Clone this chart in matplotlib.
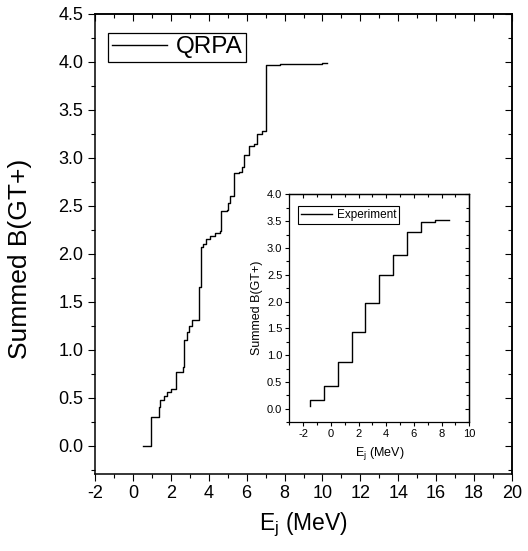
import matplotlib

matplotlib.use("Agg")
import matplotlib.pyplot as plt  # noqa: E402
from matplotlib.ticker import MultipleLocator  # noqa: E402

plt.rcParams["font.family"] = ["Liberation Sans", "DejaVu Sans"]
plt.rcParams["axes.unicode_minus"] = False

# QRPA summed strength: energy where each step starts, level after the step
qrpa_e = [0.55, 0.94, 1.39, 1.45, 1.66, 1.80, 2.01, 2.26, 2.63, 2.71,
          2.84, 2.98, 3.12, 3.47, 3.50, 3.58, 3.72, 3.86, 4.07, 4.33,
          4.60, 4.65, 4.95, 5.03, 5.12, 5.35, 5.61, 5.74, 5.88, 6.14,
          6.41, 6.53, 6.80, 7.01, 7.76, 9.96, 10.23]
qrpa_b = [0.00, 0.30, 0.40, 0.48, 0.52, 0.56, 0.59, 0.77, 0.82, 1.10,
          1.18, 1.25, 1.31, 1.35, 1.65, 2.07, 2.10, 2.15, 2.19, 2.22,
          2.24, 2.45, 2.46, 2.53, 2.60, 2.84, 2.85, 2.91, 3.03, 3.12,
          3.15, 3.25, 3.28, 3.97, 3.98, 3.99, 3.99]

# experiment (inset)
exp_e = [-1.5, -1.5, -0.5, 0.5, 1.5, 2.5, 3.5, 4.5, 5.5, 6.5, 7.5, 8.5]
exp_b = [0.05, 0.17, 0.42, 0.87, 1.44, 1.98, 2.49, 2.87, 3.29, 3.48, 3.53, 3.53]

main_xticks = list(range(-2, 21, 2))
main_yticks = [0.0, 0.5, 1.0, 1.5, 2.0, 2.5, 3.0, 3.5, 4.0, 4.5]
inset_xticks = list(range(-2, 11, 2))
inset_yticks = [0.0, 0.5, 1.0, 1.5, 2.0, 2.5, 3.0, 3.5, 4.0]


def style_axes(ax, size, major, minor, lw):
    # origin style: ticks out on bottom/left, in on top/right
    for s in ax.spines.values():
        s.set_linewidth(lw)
    ax.tick_params(which="both", direction="out", width=0.8, labelsize=size)
    ax.tick_params(which="major", length=major)
    ax.tick_params(which="minor", length=minor)
    top = ax.secondary_xaxis("top")
    right = ax.secondary_yaxis("right")
    for sec, loc in ((top, ax.xaxis), (right, ax.yaxis)):
        sec.set_ticks(loc.get_majorticklocs())
        sec.tick_params(which="both", direction="in", width=0.8)
        sec.tick_params(which="major", length=major)
        sec.tick_params(which="minor", length=minor)
        sec.spines[:].set_linewidth(lw)
    top.set_xticklabels([])
    right.set_yticklabels([])
    top.xaxis.set_minor_locator(ax.xaxis.get_minor_locator())
    right.yaxis.set_minor_locator(ax.yaxis.get_minor_locator())


fig = plt.figure(figsize=(5.28, 5.51), dpi=100)
ax = fig.add_axes([95 / 528, 1 - 473.5 / 551, 417 / 528, 459.5 / 551])
ax.step(qrpa_e, qrpa_b, where="post", color="black", lw=1.0, label="QRPA")
ax.set_xlim(-2, 20)
ax.set_ylim(-0.29, 4.5)
ax.set_xticks(main_xticks)
ax.set_yticks(main_yticks)
ax.set_yticklabels([f"{v:.1f}" for v in main_yticks])
ax.xaxis.set_minor_locator(MultipleLocator(1))
ax.yaxis.set_minor_locator(MultipleLocator(0.25))
style_axes(ax, 13, 5, 3, 1.1)
ax.set_xlabel("E$_\\mathregular{j}$ (MeV)", fontsize=16.5, labelpad=6)
ax.set_ylabel("Summed B(GT+)", fontsize=19)
ax.yaxis.set_label_coords(-0.152, 0.467)
leg = ax.legend(loc="upper left", bbox_to_anchor=(0.031, 0.959), borderaxespad=0,
                fontsize=17.5, fancybox=False, edgecolor="black", framealpha=1,
                handlelength=2.3, handletextpad=0.35, borderpad=0.15)
leg.get_frame().set_linewidth(0.9)

ins = fig.add_axes([289.3 / 528, 1 - 422.3 / 551, 180 / 528, 228 / 551])
ins.step(exp_e, exp_b, where="post", color="black", lw=1.0, label="Experiment")
ins.set_xlim(-3, 10)
ins.set_ylim(-0.25, 4.0)
ins.set_xticks(inset_xticks)
ins.set_yticks(inset_yticks)
ins.set_yticklabels([f"{v:.1f}" for v in inset_yticks])
ins.xaxis.set_minor_locator(MultipleLocator(1))
ins.yaxis.set_minor_locator(MultipleLocator(0.25))
style_axes(ins, 8, 3, 2, 0.9)
ins.tick_params(pad=2)
ins.set_xlabel("E$_\\mathregular{j}$ (MeV)", fontsize=9, labelpad=4)
ins.set_ylabel("Summed B(GT+)", fontsize=9, labelpad=3)
leg2 = ins.legend(loc="upper left", bbox_to_anchor=(0.05, 0.95), borderaxespad=0,
                  fontsize=8.5, fancybox=False, edgecolor="black", framealpha=1,
                  handlelength=2.6, handletextpad=0.4, borderpad=0.25)
leg2.get_frame().set_linewidth(0.8)

fig.savefig("out.png", dpi=100)
